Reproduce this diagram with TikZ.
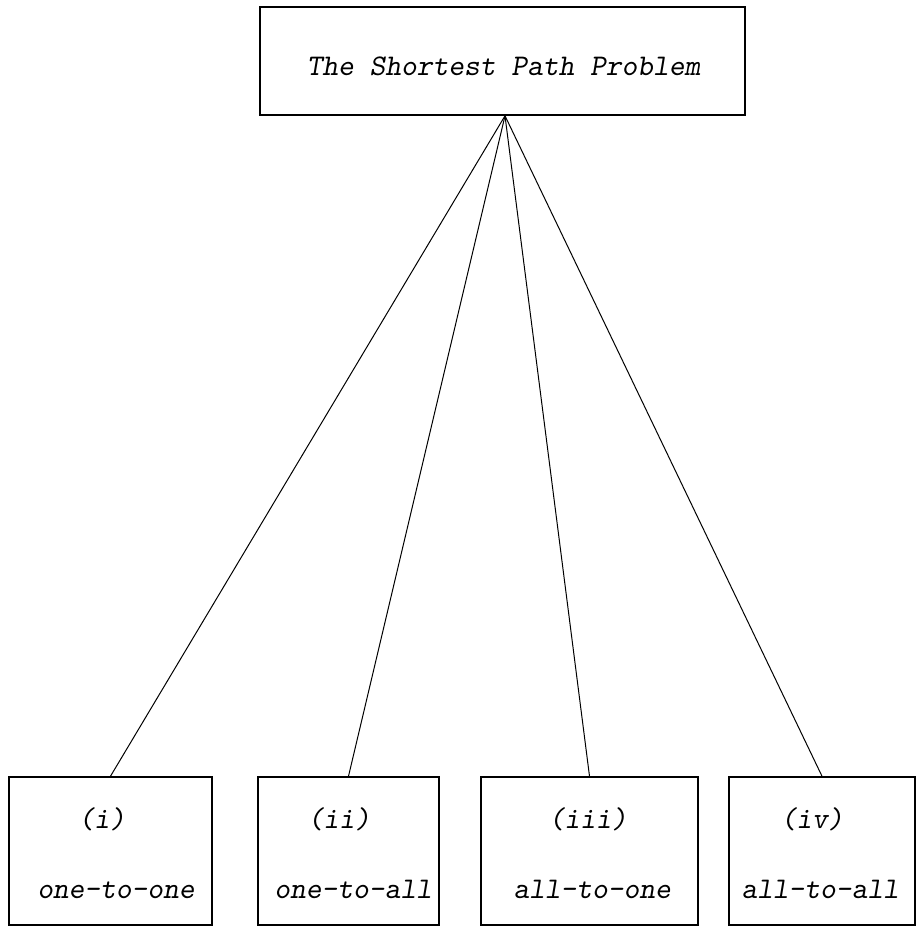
\documentclass[tikz,border=0pt]{standalone}
\usepackage{fontspec}
\begin{document}
\begin{tikzpicture}[x=1pt,y=-1pt,
  box/.style={draw, line width=1.6pt, inner sep=0pt},
  lbl/.style={font=\fontsize{30}{34}\selectfont\ttfamily\slshape, anchor=base, inner sep=0pt},
  conn/.style={line width=1pt}]
\useasboundingbox (0,0) rectangle (916,927);
% top box
\node[box, minimum width=485pt, minimum height=108pt] (top) at (502.5,61) {};
\node[lbl] (toptxt) at (503.5,75) {The Shortest Path Problem};
% bottom boxes
\node[box, minimum width=203pt, minimum height=148pt] (b1) at (110.5,851) {};
\node[box, minimum width=181pt, minimum height=148pt] (b2) at (348.5,851) {};
\node[box, minimum width=217pt, minimum height=148pt] (b3) at (589.5,851) {};
\node[box, minimum width=186pt, minimum height=148pt] (b4) at (822,851) {};
% labels
\node[lbl] (b1a) at (102,828) {(i)};
\node[lbl] (b1b) at (116,898) {one-to-one};
\node[lbl] (b2a) at (339,828) {(ii)};
\node[lbl] (b2b) at (353,898) {one-to-all};
\node[lbl] (b3a) at (588,828) {(iii)};
\node[lbl] (b3b) at (592,898) {all-to-one};
\node[lbl] (b4a) at (812,828) {(iv)};
\node[lbl] (b4b) at (820,898) {all-to-all};
% connectors
\coordinate (apex) at ([xshift=2.5pt]top.south);
\draw[conn] (apex) -- (b1.north);
\draw[conn] (apex) -- (b2.north);
\draw[conn] (apex) -- (b3.north);
\draw[conn] (apex) -- (b4.north);
\end{tikzpicture}
\end{document}
